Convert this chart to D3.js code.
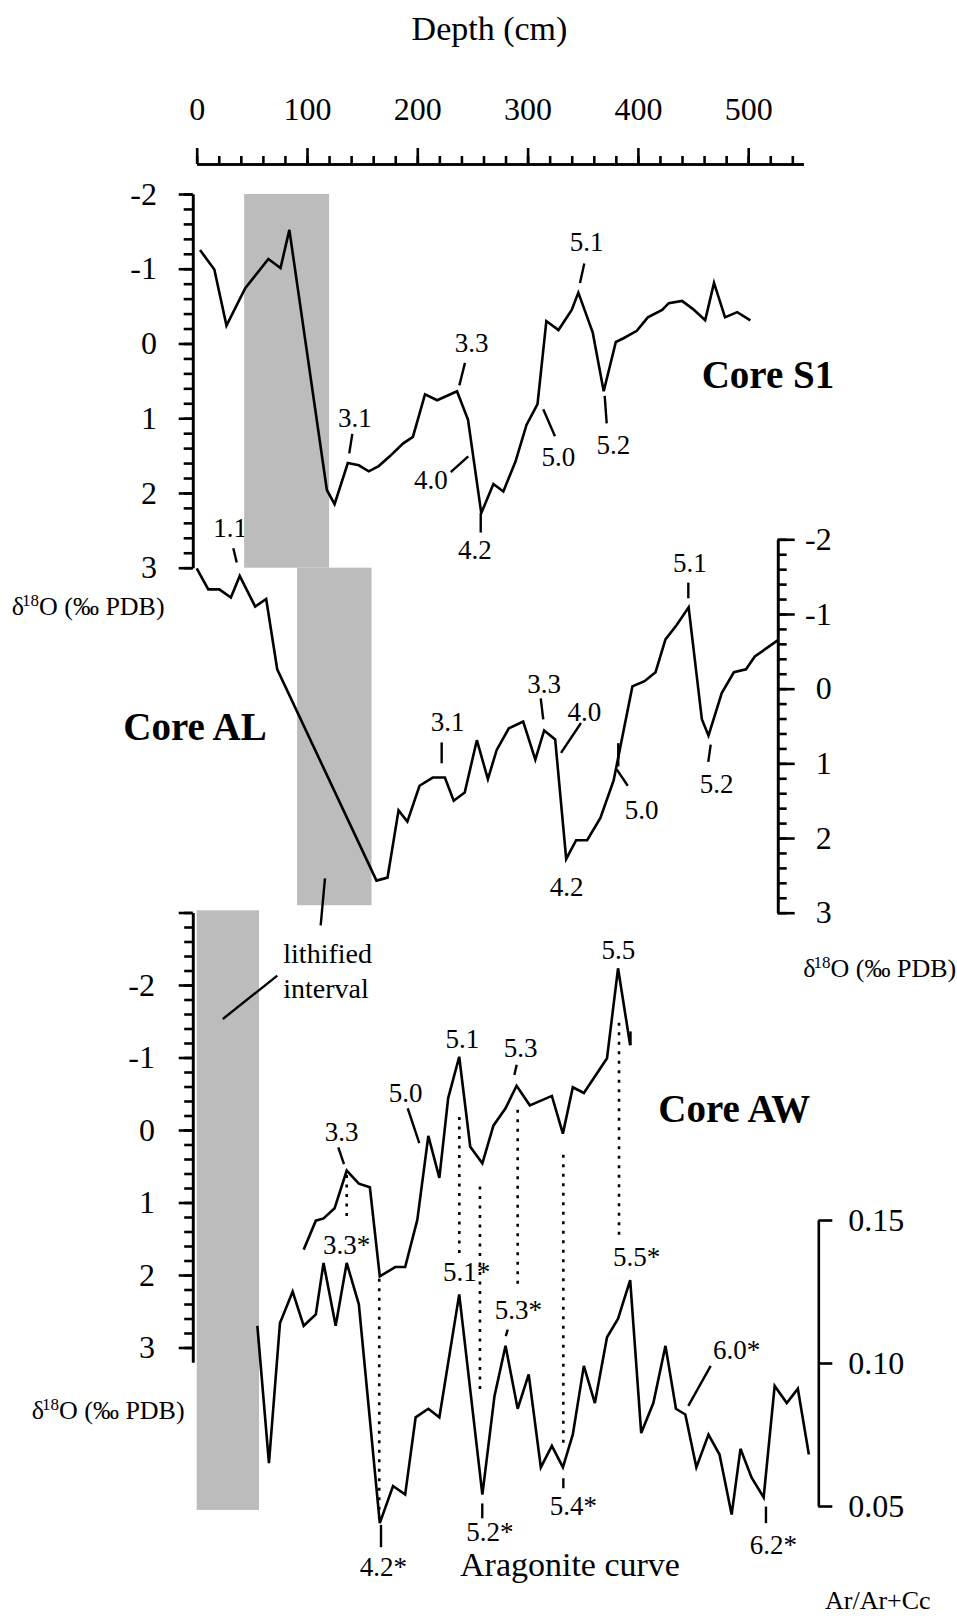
<!DOCTYPE html>
<html>
<head>
<meta charset="utf-8">
<script src="https://cdnjs.cloudflare.com/ajax/libs/d3/7.8.5/d3.min.js"></script>
<style>body{margin:0;background:#fff}</style>
</head>
<body>
<script>
// depth (cm) and d18O readings, core S1
var s1Depth = [3, 16, 27, 44, 65, 76, 84, 118, 125, 137, 147, 156, 165, 175, 187, 196, 207, 218, 236, 246,
  258, 269, 278, 289, 299, 309, 317, 328, 340, 346, 359, 369, 380, 387, 399, 409, 422, 428, 440, 450,
  461, 469, 479, 490, 502]
var s1Value = [-1.25, -0.99, -0.24, -0.74, -1.13, -1.01, -1.52, 1.96, 2.15, 1.60, 1.63, 1.71, 1.64, 1.51, 1.34, 1.25, 0.68, 0.76, 0.64, 1.02,
  2.27, 1.88, 1.98, 1.58, 1.09, 0.81, -0.30, -0.18, -0.45, -0.68, -0.15, 0.64, -0.02, -0.07, -0.17, -0.35, -0.45, -0.54, -0.57, -0.46,
  -0.31, -0.81, -0.35, -0.42, -0.31]

// core AL
var alDepth = [0, 10.5, 20.5, 31, 39, 53, 63, 73, 163, 173, 183, 191, 202, 214, 225, 233, 243, 254, 264, 272,
  283, 296, 307, 315, 325, 335, 344, 354, 366, 378, 395, 406, 416, 425, 435, 446, 458, 464, 476, 487,
  498, 506, 527]
var alValue = [-1.61, -1.33, -1.33, -1.22, -1.51, -1.10, -1.20, -0.26, 2.57, 2.53, 1.63, 1.78, 1.30, 1.19, 1.19, 1.50, 1.39, 0.69, 1.21, 0.82,
  0.53, 0.44, 0.95, 0.56, 0.68, 2.28, 2.03, 2.03, 1.73, 1.23, -0.03, -0.10, -0.22, -0.66, -0.85, -1.09, 0.41, 0.63, 0.06, -0.22,
  -0.26, -0.43, -0.65]

// core AW
var awDepth = [97, 108, 115, 125, 136, 147, 157, 166, 180, 189, 200, 210, 220, 228, 238, 248, 259, 269, 280, 290,
  302, 322, 332, 341, 351, 372, 382, 393]
var awValue = [1.65, 1.25, 1.22, 1.08, 0.56, 0.74, 0.79, 2.02, 1.89, 1.89, 1.24, 0.08, 0.66, -0.44, -1.01, 0.23, 0.46, -0.06, -0.30, -0.61,
  -0.34, -0.47, 0.05, -0.59, -0.51, -0.99, -2.23, -1.17]

// aragonite curve, core AW (Ar/Ar+Cc)
var arDepth = [55, 65.5, 75.5, 87, 97, 108, 115, 126, 136, 147, 166, 178, 189, 198.5, 210, 220, 238, 259, 270, 280,
  291, 301, 312, 322, 332, 341, 351, 361, 372, 382, 393, 403, 414, 425, 434.5, 443, 453, 464, 474, 485,
  493, 503, 514, 524, 535, 545, 555]
var arValue = [0.113, 0.065, 0.114, 0.125, 0.113, 0.117, 0.135, 0.113, 0.135, 0.1205, 0.044, 0.057, 0.054, 0.081, 0.084, 0.081, 0.124, 0.054, 0.0885, 0.106,
  0.084, 0.096, 0.0635, 0.071, 0.0635, 0.075, 0.099, 0.086, 0.109, 0.1155, 0.129, 0.0755, 0.086, 0.106, 0.084, 0.082, 0.0635, 0.075, 0.068, 0.047,
  0.070, 0.060, 0.053, 0.092, 0.086, 0.091, 0.068]

// lithified intervals: core, top depth, bottom depth, value span
var lithified = [["S1", 43, 120, -2, 3], ["AL", 91, 158.5, -1.62, 2.9], ["AW", 0, 56.5, -3.03, 5.24]]

// isotope stage labels: text, depth, value, leader [d1, v1, d2, v2]
var s1Notes = [["3.1", 143.5, 1.0, [141.1, 1.21, 138.3, 1.47]], ["3.3", 249.3, -0.01, [243.2, 0.26, 238.1, 0.56]],
  ["4.0", 212.4, 1.83, [230.3, 1.72, 246.2, 1.51]], ["4.2", 252.3, 2.76, [257.5, 2.27, 257.5, 2.53]],
  ["5.0", 327.8, 1.51, [314.2, 0.88, 324.8, 1.24]], ["5.1", 353.6, -1.36, [351.4, -1.07, 347.5, -0.81]],
  ["5.2", 377.7, 1.36, [369.9, 0.70, 371.7, 1.07]]]
var alNotes = [["1.1", 30.2, -2.15, [33.2, -1.88, 36.3, -1.69]], ["3.1", 227.6, 0.44, [222.1, 0.72, 222.1, 1.0]],
  ["3.3", 314.9, -0.07, [311.9, 0.13, 314.2, 0.41]], ["4.0", 351.4, 0.31, [348.4, 0.46, 330.3, 0.86]],
  ["4.2", 335.4, 2.65, null], ["5.0", 403.4, 1.62, [380.8, 1.08, 390.8, 1.30]], ["", 0, 0, [382.2, 0.73, 382.2, 1.04]],
  ["5.1", 447.2, -1.68, [445.7, -1.42, 445.7, -1.21]], ["5.2", 471.4, 1.27, [466, 0.75, 463.8, 0.98]]]
var awNotes = [["3.3", 131.5, 0.02, [128.4, 0.24, 133.5, 0.47]], ["5.0", 189.5, -0.51, [191.3, -0.30, 201.8, 0.18]],
  ["5.1", 240.8, -1.26, null], ["5.3", 293.7, -1.13, [290.1, -0.90, 288, -0.76]], ["5.5", 382.2, -2.48, null],
  ["", 0, 0, [393.3, -1.36, 393.3, -1.17]]]
var arNotes = [["3.3*", 136, 0.1413, null], ["4.2*", 169.2, 0.0288, [167.1, 0.0434, 167.1, 0.0356]],
  ["5.1*", 244.8, 0.1319, null], ["5.2*", 265.9, 0.0410, [258.9, 0.0509, 258.9, 0.0457]],
  ["5.3*", 291.6, 0.1185, [282, 0.1117, 280.2, 0.1094]], ["5.4*", 341.4, 0.0500, [332.4, 0.0597, 332.4, 0.0562]],
  ["5.5*", 398.9, 0.1372, null], ["6.0*", 489.6, 0.1045, [466, 0.0990, 445.7, 0.0850]],
  ["6.2*", 522.8, 0.0364, [516.1, 0.0498, 516.1, 0.0440]]]

// dotted ties between AW d18O and aragonite: depth, d18O value, aragonite value
var ties = [[136, 0.62, 0.15], [165.5, 2.05, 0.0439], [238.1, -0.18, 0.1384], [256.8, 0.78, 0.0888],
  [291, -0.28, 0.1255], [332.4, 0.34, 0.0719], [382.9, -1.48, 0.1436]]

var depthTicks = [0, 100, 200, 300, 400, 500]
var isoTicks = [-2, -1, 0, 1, 2, 3]
var arTicks = [0.05, 0.10, 0.15]

var width = 957, height = 1618
var serif = "'Liberation Serif', 'Times New Roman', serif"
var ink = "#000"

var svg = d3.select("body").append("svg")
  .attr("width", width)
  .attr("height", height)
  .style("background", "#fff")

// scales
var x = d3.scaleLinear().domain([0, 550]).range([196.7, 803.35])
var yS1 = d3.scaleLinear().domain([-2, 3]).range([194, 567.7])
var yAL = d3.scaleLinear().domain([-2, 3]).range([539.3, 912.7])
var yAW = d3.scaleLinear().domain([-3, 3.2]).range([912.5, 1362])
var yAr = d3.scaleLinear().domain([0.05, 0.15]).range([1506, 1220])
var yOf = {"S1": yS1, "AL": yAL, "AW": yAW}

// stage labels go underneath the grey boxes (the 1.1 label is partly hidden)
function drawNotes(notes, y, size) {
  var g = svg.append("g")
  notes.forEach(function(n) {
    if (n[0] !== "") {
      g.append("text")
        .attr("x", x(n[1]))
        .attr("y", y(n[2]))
        .attr("dy", "0.34em")
        .attr("text-anchor", "middle")
        .attr("font-family", serif)
        .attr("font-size", size)
        .text(n[0])
    }
    if (n[3]) {
      g.append("line")
        .attr("x1", x(n[3][0])).attr("y1", y(n[3][1]))
        .attr("x2", x(n[3][2])).attr("y2", y(n[3][3]))
        .attr("stroke", ink)
        .attr("stroke-width", 2.4)
    }
  })
}
drawNotes(s1Notes, yS1, 27)
drawNotes(alNotes, yAL, 27)
drawNotes(awNotes, yAW, 27)
drawNotes(arNotes, yAr, 27)

// grey lithified intervals
svg.selectAll("rect.lith")
  .data(lithified)
  .enter()
  .append("rect")
  .attr("class", "lith")
  .attr("x", function(d) { return x(d[1]) })
  .attr("width", function(d) { return x(d[2]) - x(d[1]) })
  .attr("y", function(d) { return yOf[d[0]](d[3]) })
  .attr("height", function(d) { return yOf[d[0]](d[4]) - yOf[d[0]](d[3]) })
  .attr("fill", "#bcbcbc")

// dotted correlation lines
svg.selectAll("line.tie")
  .data(ties)
  .enter()
  .append("line")
  .attr("class", "tie")
  .attr("x1", function(d) { return x(d[0]) })
  .attr("x2", function(d) { return x(d[0]) })
  .attr("y1", function(d) { return yAW(d[1]) })
  .attr("y2", function(d) { return yAr(d[2]) })
  .attr("stroke", ink)
  .attr("stroke-width", 2.6)
  .attr("stroke-dasharray", "3,6.5")

// curves
function drawCurve(depths, values, y) {
  var line = d3.line()
    .x(function(d) { return x(d[0]) })
    .y(function(d) { return y(d[1]) })
  svg.append("path")
    .datum(d3.zip(depths, values))
    .attr("d", line)
    .attr("fill", "none")
    .attr("stroke", ink)
    .attr("stroke-width", 2.6)
}
drawCurve(s1Depth, s1Value, yS1)
drawCurve(alDepth, alValue, yAL)
drawCurve(awDepth, awValue, yAW)
drawCurve(arDepth, arValue, yAr)

// axes
function styleAxis(g, size) {
  g.selectAll("path, line").attr("stroke", ink).attr("stroke-width", 2.6)
  g.selectAll("text").attr("font-family", serif).attr("font-size", size).attr("fill", ink)
}
function drawAxis(axisFn, scale, pos, minors, majors, smallLen, bigLen, pad, fmt) {
  var g = svg.append("g").attr("transform", pos)
  if (minors) {
    g.append("g").call(axisFn(scale).tickValues(minors).tickSize(smallLen).tickSizeOuter(0).tickFormat(""))
  }
  g.append("g").attr("class", "major")
    .call(axisFn(scale).tickValues(majors).tickSize(bigLen).tickSizeOuter(0).tickPadding(pad).tickFormat(fmt))
  styleAxis(g, 32)
  return g
}
var label = function(d) { return String(d) }

drawAxis(d3.axisTop, x, "translate(0,164)", d3.range(0, 551, 20), depthTicks, 8, 16, 28, label)
drawAxis(d3.axisLeft, yS1, "translate(192.7,0)", d3.range(-2, 3.01, 0.2), isoTicks, 9, 14, 21.7, label)
var alAxis = drawAxis(d3.axisRight, yAL, "translate(777.7,0)", d3.range(-2, 3.01, 0.2), isoTicks, 9, 17, 21, label)
alAxis.selectAll(".major text").filter(function(d) { return d < 0 })
  .attr("x", 17 + 21 - 10.7)
drawAxis(d3.axisLeft, yAW, "translate(192.7,0)", d3.range(-3, 3.01, 0.2), [-3].concat(isoTicks), 8.5, 14, 23.7,
  function(d) { return d === -3 ? "" : String(d) })
drawAxis(d3.axisRight, yAr, "translate(818.3,0)", null, arTicks, 14, 14, 16, d3.format(".2f"))

// titles and axis names
function addText(tx, ty, str, size, weight, anchor) {
  return svg.append("text")
    .attr("x", tx).attr("y", ty)
    .attr("font-family", serif)
    .attr("font-size", size)
    .attr("font-weight", weight || "normal")
    .attr("text-anchor", anchor || "start")
    .attr("fill", ink)
    .text(str)
}
addText(489.5, 40, "Depth (cm)", 34, "normal", "middle")
addText(701.7, 388, "Core S1", 39, "bold")
addText(123.3, 740, "Core AL", 39, "bold")
addText(658.3, 1121.7, "Core AW", 39, "bold")
addText(460, 1576, "Aragonite curve", 34)
addText(825, 1609, "Ar/Ar+Cc", 26)
addText(283.3, 963.3, "lithified", 28)
addText(283.3, 998.3, "interval", 28)

// leaders from the lithified label to the AW and AL boxes
svg.append("line")
  .attr("x1", x(73.1)).attr("y1", yAW(-2.13))
  .attr("x2", x(23.6)).attr("y2", yAW(-1.53))
  .attr("stroke", ink).attr("stroke-width", 2.4)
svg.append("line")
  .attr("x1", x(116.3)).attr("y1", yAL(2.54))
  .attr("x2", x(112.4)).attr("y2", yAL(3.17))
  .attr("stroke", ink).attr("stroke-width", 2.4)

function isoLabel(tx, ty) {
  var t = svg.append("text")
    .attr("x", tx).attr("y", ty)
    .attr("font-family", serif)
    .attr("font-size", 26)
    .attr("fill", ink)
  t.append("tspan").text("\u03b4")
  t.append("tspan").attr("font-size", 17).attr("dx", -2).attr("dy", -9).text("18")
  t.append("tspan").attr("dy", 9).text("O (\u2030 PDB)")
}
isoLabel(11.7, 615)
isoLabel(803.3, 976.5)
isoLabel(31.7, 1419)
</script>
</body>
</html>
